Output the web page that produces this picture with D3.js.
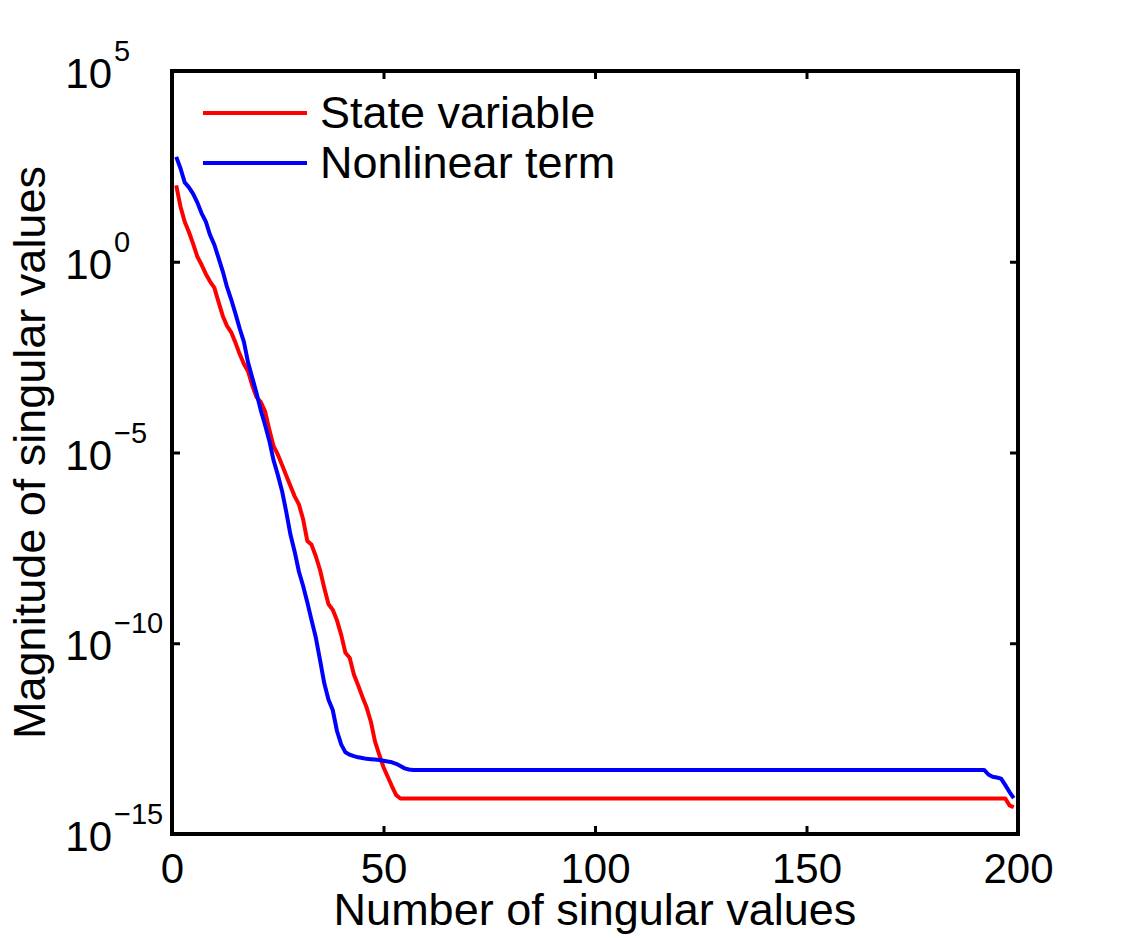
<!DOCTYPE html>
<html>
<head>
<meta charset="utf-8">
<script src="https://cdn.jsdelivr.net/npm/d3@7"></script>
<style>
  html, body { margin: 0; padding: 0; background: #fff; }
  svg { display: block; font-family: "Liberation Sans", Arial, Helvetica, sans-serif; }
  .axis path, .axis line { stroke: #000; }
  .axis text { fill: #000; }
</style>
</head>
<body>
<div id="chart"></div>
<script>
// singular value index and log10(magnitude)
const stateIdx = [1, 2, 3, 4, 5, 6, 7, 8, 9, 10, 11, 12, 13, 14, 15, 16, 17, 18, 19, 20,
    21, 22, 23, 24, 25, 26, 27, 28, 29, 30, 31, 32, 33, 34, 35, 36, 37, 38, 39, 40,
    41, 42, 43, 44, 45, 46, 47, 48, 49, 50, 51, 52, 53, 54, 197, 198, 199];
const stateExp = [2.0, 1.45, 1.05, 0.78, 0.47, 0.13, -0.08, -0.32, -0.52, -0.68,
    -1.05, -1.42, -1.68, -1.85, -2.12, -2.42, -2.68, -2.88, -3.25, -3.55,
    -3.68, -3.92, -4.40, -4.83, -5.05, -5.32, -5.60, -5.88, -6.15, -6.36,
    -6.75, -7.32, -7.42, -7.72, -8.08, -8.55, -8.98, -9.12, -9.40, -9.78,
    -10.25, -10.38, -10.82, -11.10, -11.40, -11.68, -12.05, -12.58, -12.92, -13.25,
    -13.50, -13.75, -13.98, -14.07, -14.07, -14.25, -14.30];

const nonlinIdx = [1, 2, 3, 4, 5, 6, 7, 8, 9, 10, 11, 12, 13, 14, 15, 16, 17, 18, 19, 20,
    21, 22, 23, 24, 25, 26, 27, 28, 29, 30, 31, 32, 33, 34, 35, 36, 37, 38, 39, 40,
    41, 42, 43, 44, 45, 46, 47, 48, 49, 50, 51, 52, 53, 54, 55, 56, 57,
    192, 193, 194, 195, 196, 197, 198, 199];
const nonlinExp = [2.75, 2.45, 2.08, 1.95, 1.78, 1.55, 1.27, 1.05, 0.70, 0.45,
    0.10, -0.25, -0.66, -0.99, -1.36, -1.75, -2.10, -2.65, -3.05, -3.45,
    -3.90, -4.28, -4.69, -5.20, -5.58, -6.00, -6.55, -7.15, -7.60, -8.12,
    -8.50, -8.93, -9.40, -9.85, -10.44, -11.05, -11.48, -11.75, -12.30, -12.65,
    -12.86, -12.92, -12.96, -12.99, -13.01, -13.03, -13.04, -13.05, -13.06, -13.08,
    -13.10, -13.12, -13.16, -13.22, -13.28, -13.31, -13.32,
    -13.32, -13.44, -13.50, -13.52, -13.55, -13.72, -13.90, -14.06];

const seriesNames = ["State variable", "Nonlinear term"];
const seriesColors = ["#ff0000", "#0000ff"];
const xTicks = [0, 50, 100, 150, 200];
const yTickExps = [5, 0, -5, -10, -15];

const width = 1125;
const height = 938;
const margin = { top: 71, right: 107, bottom: 104, left: 172 };

const svg = d3.select("#chart")
    .append("svg")
    .attr("width", width)
    .attr("height", height);

const x = d3.scaleLinear()
    .domain([0, 200])
    .range([margin.left, width - margin.right]);

const y = d3.scaleLog()
    .domain([1e-15, 1e5])
    .range([height - margin.bottom, margin.top]);

const toPoints = (idx, exps) => idx.map((d, i) => ({ n: d, v: Math.pow(10, exps[i]) }));
const series = [toPoints(stateIdx, stateExp), toPoints(nonlinIdx, nonlinExp)];

svg.append("clipPath").attr("id", "plot-clip")
    .append("rect")
    .attr("x", margin.left).attr("y", margin.top)
    .attr("width", x(200) - x(0)).attr("height", y(1e-15) - y(1e5));

const line = d3.line()
    .x(d => x(d.n))
    .y(d => y(d.v));

svg.append("g")
    .attr("clip-path", "url(#plot-clip)")
    .selectAll("path")
    .data(series)
    .join("path")
    .attr("fill", "none")
    .attr("stroke", (d, i) => seriesColors[i])
    .attr("stroke-width", 4)
    .attr("stroke-linejoin", "round")
    .attr("d", line);

// Axes, inward ticks on all four sides (matlab box style)
const tickLen = 8;
const yTickVals = yTickExps.map(e => Math.pow(10, e));

const xBottom = svg.append("g")
    .attr("class", "axis")
    .attr("transform", `translate(0,${y(1e-15)})`)
    .call(d3.axisBottom(x).tickValues(xTicks).tickSizeInner(-tickLen).tickSizeOuter(0));
xBottom.selectAll("text")
    .attr("y", 49).attr("dy", 0)
    .style("font-size", "42px");

svg.append("g")
    .attr("class", "axis")
    .attr("transform", `translate(0,${y(1e5)})`)
    .call(d3.axisTop(x).tickValues(xTicks).tickSizeInner(-tickLen).tickSizeOuter(0).tickFormat(""));

const yLeft = svg.append("g")
    .attr("class", "axis")
    .attr("transform", `translate(${x(0)},0)`)
    .call(d3.axisLeft(y).tickValues(yTickVals).tickSizeInner(-tickLen).tickSizeOuter(0).tickFormat(""));

svg.append("g")
    .attr("class", "axis")
    .attr("transform", `translate(${x(200)},0)`)
    .call(d3.axisRight(y).tickValues(yTickVals).tickSizeInner(-tickLen).tickSizeOuter(0).tickFormat(""));

svg.selectAll(".axis .domain").remove();
svg.selectAll(".axis .tick line").attr("stroke-width", 3);

// y tick labels as 10 with superscript exponent
const yLabels = svg.append("g").attr("class", "axis");
yTickExps.forEach(e => {
    const ty = y(Math.pow(10, e));
    yLabels.append("text")
        .attr("x", 112).attr("y", ty + 17)
        .attr("text-anchor", "end")
        .style("font-size", "42px")
        .text("10");
    yLabels.append("text")
        .attr("x", 114).attr("y", ty - 10)
        .style("font-size", "29px")
        .text(e < 0 ? "\u2212" + Math.abs(e) : String(e));
});

// box
svg.append("rect")
    .attr("x", x(0)).attr("y", y(1e5))
    .attr("width", x(200) - x(0)).attr("height", y(1e-15) - y(1e5))
    .attr("fill", "none")
    .attr("stroke", "#000")
    .attr("stroke-width", 4);

// axis titles
svg.append("text")
    .attr("x", (x(0) + x(200)) / 2).attr("y", 925)
    .attr("text-anchor", "middle")
    .style("font-size", "45px")
    .text("Number of singular values");

svg.append("text")
    .attr("transform", `translate(45,${(y(1e5) + y(1e-15)) / 2}) rotate(-90)`)
    .attr("text-anchor", "middle")
    .style("font-size", "45px")
    .text("Magnitude of singular values");

// legend
const legend = svg.append("g");
seriesNames.forEach((name, i) => {
    const ly = 113 + i * 50;
    legend.append("line")
        .attr("x1", 203).attr("x2", 307)
        .attr("y1", ly).attr("y2", ly)
        .attr("stroke", seriesColors[i])
        .attr("stroke-width", 4);
    legend.append("text")
        .attr("x", 320).attr("y", ly + 15)
        .style("font-size", "45px")
        .text(name);
});
</script>
</body>
</html>
